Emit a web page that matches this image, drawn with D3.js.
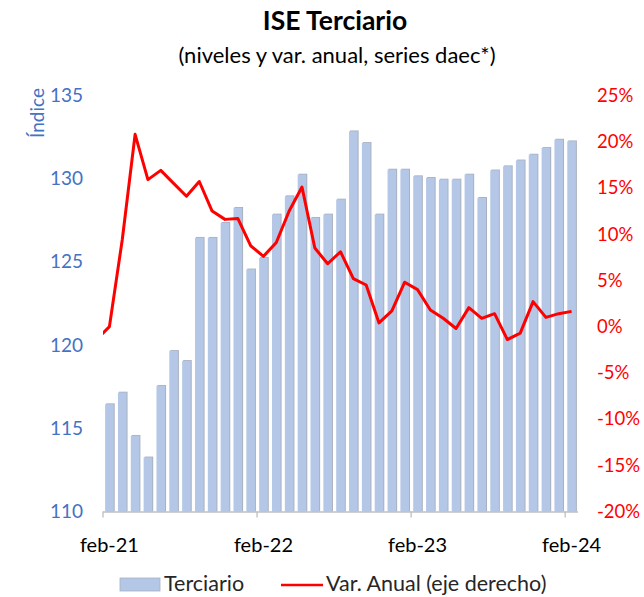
<!DOCTYPE html>
<html>
<head>
<meta charset="utf-8">
<script src="https://cdn.jsdelivr.net/npm/d3@7"></script>
<style>
  body { margin: 0; background: #fff; }
  svg { font-family: Lato, "Open Sans", sans-serif; }
</style>
</head>
<body>
<svg id="chart" width="644" height="597"></svg>
<script>
// categories (monthly, feb-21 .. feb-24)
var months = ["feb-21","mar-21","abr-21","may-21","jun-21","jul-21","ago-21","sep-21","oct-21","nov-21","dic-21","ene-22",
              "feb-22","mar-22","abr-22","may-22","jun-22","jul-22","ago-22","sep-22","oct-22","nov-22","dic-22","ene-23",
              "feb-23","mar-23","abr-23","may-23","jun-23","jul-23","ago-23","sep-23","oct-23","nov-23","dic-23","ene-24",
              "feb-24"];

// ISE Terciario, levels (left axis)
var terciario = [116.5,117.2,114.6,113.3,117.6,119.7,119.1,126.5,126.5,127.4,128.3,124.6,
                 125.3,127.9,129.0,130.3,127.7,127.9,128.8,132.9,132.2,127.9,130.6,130.6,
                 130.2,130.1,130.0,130.0,130.3,128.9,130.55,130.8,131.15,131.5,131.9,132.4,
                 132.3];

// annual variation % (right axis); first value is ene-21, clipped at the plot edge
var varAnualMonths = ["ene-21"].concat(months);
var varAnual = [-1.4, 0.0,9.4,20.8,15.9,16.9,15.5,14.1,15.7,12.5,11.6,11.7,8.75,
                7.6,9.1,12.5,15.1,8.5,6.8,8.1,5.2,4.5,0.4,1.7,4.8,
                4.0,1.8,0.9,-0.2,2.05,0.9,1.4,-1.4,-0.7,2.7,1.0,1.4,
                1.65];

var leftTicks = [110,115,120,125,130,135];
var rightTicks = [-20,-15,-10,-5,0,5,10,15,20,25];
var xLabels = ["feb-21","feb-22","feb-23","feb-24"];

function draw(){
    var svg = d3.select("#chart");
    var x0 = 103, x1 = 578, yTop = 95.5, yBot = 511.5;

    var x = d3.scaleBand()
        .domain(months)
        .range([x0, x1])
        .paddingInner(0.33)
        .paddingOuter(0.165);
    var step = x.step();

    var yL = d3.scaleLinear().domain([110,135]).range([yBot, yTop]);
    var yR = d3.scaleLinear().domain([-20,25]).range([yBot, yTop]);

    // title
    svg.append("text")
        .attr("x", 335).attr("y", 30)
        .attr("text-anchor", "middle")
        .attr("font-size", 26.5).attr("font-weight", "bold")
        .attr("fill", "#000")
        .text("ISE Terciario");
    svg.append("text")
        .attr("x", 337).attr("y", 63)
        .attr("text-anchor", "middle")
        .attr("font-size", 22)
        .attr("fill", "#000")
        .text("(niveles y var. anual, series daec*)");

    // bars
    var bars = svg.append("g");
    bars.selectAll("rect.shadow")
        .data(terciario)
        .enter()
        .append("rect")
        .attr("class", "shadow")
        .attr("x", function(d, i){ return x(months[i]) + 1; })
        .attr("y", function(d){ return yL(d); })
        .attr("width", x.bandwidth())
        .attr("height", function(d){ return yBot - yL(d); })
        .attr("fill", "#a9b1c0");
    bars.selectAll("rect.bar")
        .data(terciario)
        .enter()
        .append("rect")
        .attr("class", "bar")
        .attr("x", function(d, i){ return x(months[i]); })
        .attr("y", function(d){ return yL(d) + 0.8; })
        .attr("width", x.bandwidth())
        .attr("height", function(d){ return yBot - yL(d) - 0.8; })
        .attr("fill", "#b4c7e7");

    // x axis line + ticks at category boundaries
    svg.append("line")
        .attr("x1", x0).attr("x2", x1)
        .attr("y1", yBot + 0.5).attr("y2", yBot + 0.5)
        .attr("stroke", "#bfbfbf").attr("stroke-width", 1.3);
    svg.append("g").selectAll("line")
        .data([0,12,24,36])
        .enter()
        .append("line")
        .attr("x1", function(d){ return x0 + d * step; })
        .attr("x2", function(d){ return x0 + d * step; })
        .attr("y1", yBot).attr("y2", yBot + 6)
        .attr("stroke", "#bfbfbf").attr("stroke-width", 1.3);

    var xAxis = svg.append("g")
        .attr("transform", "translate(0," + yBot + ")")
        .call(d3.axisBottom(x).tickValues(xLabels).tickSize(0).tickPadding(26));
    xAxis.select(".domain").remove();
    xAxis.selectAll("text").attr("font-size", 20).attr("fill", "#000")
        .attr("font-family", "Lato, sans-serif");

    // left axis
    var lAxis = svg.append("g")
        .attr("transform", "translate(" + x0 + ",0)")
        .call(d3.axisLeft(yL).tickValues(leftTicks).tickSize(0).tickPadding(20));
    lAxis.select(".domain").remove();
    lAxis.selectAll("text").attr("font-size", 19).attr("fill", "#4472c4")
        .attr("font-family", "Lato, sans-serif");

    svg.append("text")
        .attr("transform", "translate(44,113) rotate(-90)")
        .attr("text-anchor", "middle")
        .attr("font-size", 19)
        .attr("fill", "#4472c4")
        .text("Índice");

    // right axis
    var rAxis = svg.append("g")
        .attr("transform", "translate(" + x1 + ",0)")
        .call(d3.axisRight(yR).tickValues(rightTicks).tickSize(0).tickPadding(19)
              .tickFormat(function(d){ return d + "%"; }));
    rAxis.select(".domain").remove();
    rAxis.selectAll("text").attr("font-size", 18.5).attr("fill", "#ff0000")
        .attr("font-family", "Lato, sans-serif");

    // line, clipped to the plot area
    svg.append("clipPath").attr("id", "plotclip")
        .append("rect")
        .attr("x", x0).attr("y", 0)
        .attr("width", x1 - x0).attr("height", yBot);
    var line = d3.line()
        .x(function(d, i){ return x(months[0]) + x.bandwidth() / 2 + (i - 1) * step; })
        .y(function(d){ return yR(d); });
    svg.append("path")
        .datum(varAnual)
        .attr("clip-path", "url(#plotclip)")
        .attr("d", line)
        .attr("fill", "none")
        .attr("stroke", "#ff0000")
        .attr("stroke-width", 3)
        .attr("stroke-linejoin", "round");

    // legend
    var lg = svg.append("g");
    lg.append("rect")
        .attr("x", 120).attr("y", 578)
        .attr("width", 40).attr("height", 13)
        .attr("fill", "#b4c7e7").attr("stroke", "#a9b1c0").attr("stroke-width", 0.8);
    lg.append("text")
        .attr("x", 164).attr("y", 591)
        .attr("font-size", 21.5).attr("fill", "#262626")
        .text("Terciario");
    lg.append("line")
        .attr("x1", 281).attr("x2", 323)
        .attr("y1", 585).attr("y2", 585)
        .attr("stroke", "#ff0000").attr("stroke-width", 2.5);
    lg.append("text")
        .attr("x", 326).attr("y", 591)
        .attr("font-size", 21.5).attr("fill", "#262626")
        .text("Var. Anual (eje derecho)");
}

draw();
</script>
</body>
</html>
